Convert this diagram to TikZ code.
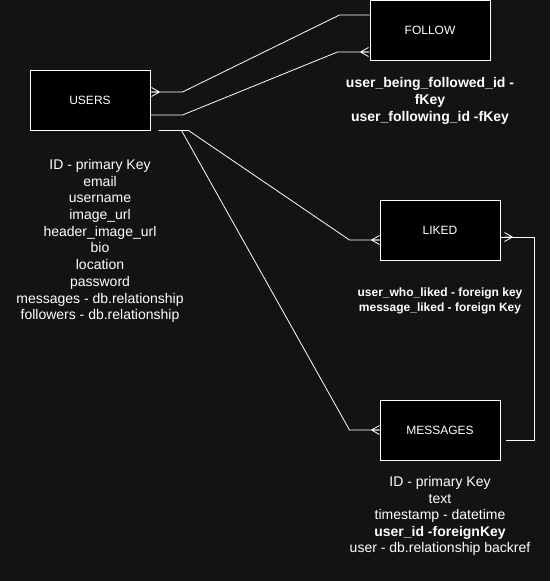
\documentclass[tikz,border=0pt]{standalone}
\usepackage{fontspec}
\setmainfont{Liberation Sans}
\definecolor{bgdark}{HTML}{131313}
\tikzset{
  crowfoot/.pic={
    \draw[link] (0,0) -- (8,-4.5) (0,0) -- (8,0) (0,0) -- (8,4.5);
  }
}
\begin{document}
\begin{tikzpicture}[
       x=1pt,y=-1pt,
       entity/.style={
         draw=white,
         fill=black,
         line width=1pt,
         minimum width=120pt,
         minimum height=60pt,
         text=white,
         font=\fontsize{12}{14}\selectfont
       },
       link/.style={
         draw=white,
         line width=0.8pt
       },
       attrs/.style={
         align=center,
         text=white,
         inner sep=0pt,
         font=\fontsize{14}{16.7}\selectfont
       }
     ]

       \fill[bgdark] (0,0) rectangle (550,581);
       \useasboundingbox (0,0) rectangle (550,581);

       % entities
       \node (users) at (90,100) [entity]{USERS};
       \node (follow) at (430,30) [entity]{FOLLOW};
       \node (liked) at (440,230) [entity]{LIKED};
       \node (messages) at (440,430) [entity]{MESSAGES};

       % attributes
       \node (usersattr) at (100,241) [attrs]{ID - primary Key\\email\\username\\image\_url\\header\_image\_url\\bio\\location\\password\\messages - db.relationship\\followers - db.relationship};
       \node (followattr) at (430,101) [attrs,font=\fontsize{14}{17}\selectfont\bfseries]{user\_being\_followed\_id -\\fKey\\user\_following\_id -fKey};
       \node (likedattr) at (440,301) [attrs,font=\fontsize{12}{14.5}\selectfont\bfseries]{user\_who\_liked - foreign key\\message\_liked - foreign Key};
       \node (messagesattr) at (440,516) [attrs,font=\fontsize{14}{16.5}\selectfont]{ID - primary Key\\text\\timestamp - datetime\\\textbf{user\_id -foreignKey}\\user - db.relationship backref};

       % users -- follow
       \draw[link] ([yshift=8pt]users.east) -- ++(32,0)
         -- ([xshift=-30pt,yshift=15pt]follow.west) -- ([yshift=15pt]follow.west);
       \draw[link] ([yshift=-15pt]users.east) -- ++(32,0)
         -- ([xshift=-32pt,yshift=-22pt]follow.west) -- ([yshift=-22pt]follow.west);
       \pic[rotate=180] at ([xshift=9pt,yshift=8pt]users.east) {crowfoot};
       \pic at ([xshift=-9pt,yshift=-22pt]follow.west) {crowfoot};

       % users -- liked, users -- messages
       \draw[link] ([xshift=8pt]users.south east) -- ++(30,0)
         -- ([xshift=-30pt,yshift=-10pt]liked.west) -- ([yshift=-10pt]liked.west);
       \draw[link] ([xshift=31pt]users.south east)
         -- ([xshift=-30pt]messages.west) -- (messages.west);
       \pic at ([xshift=-8pt,yshift=-10pt]liked.west) {crowfoot};
       \pic at ([xshift=-8pt]messages.west) {crowfoot};

       % liked -- messages
       \draw[link] ([yshift=-7pt]liked.east) -- ++(34,0)
         |- ([xshift=5pt,yshift=-10pt]messages.east);
       \pic[rotate=180] at ([xshift=12pt,yshift=-7pt]liked.east) {crowfoot};

\end{tikzpicture}
\end{document}
